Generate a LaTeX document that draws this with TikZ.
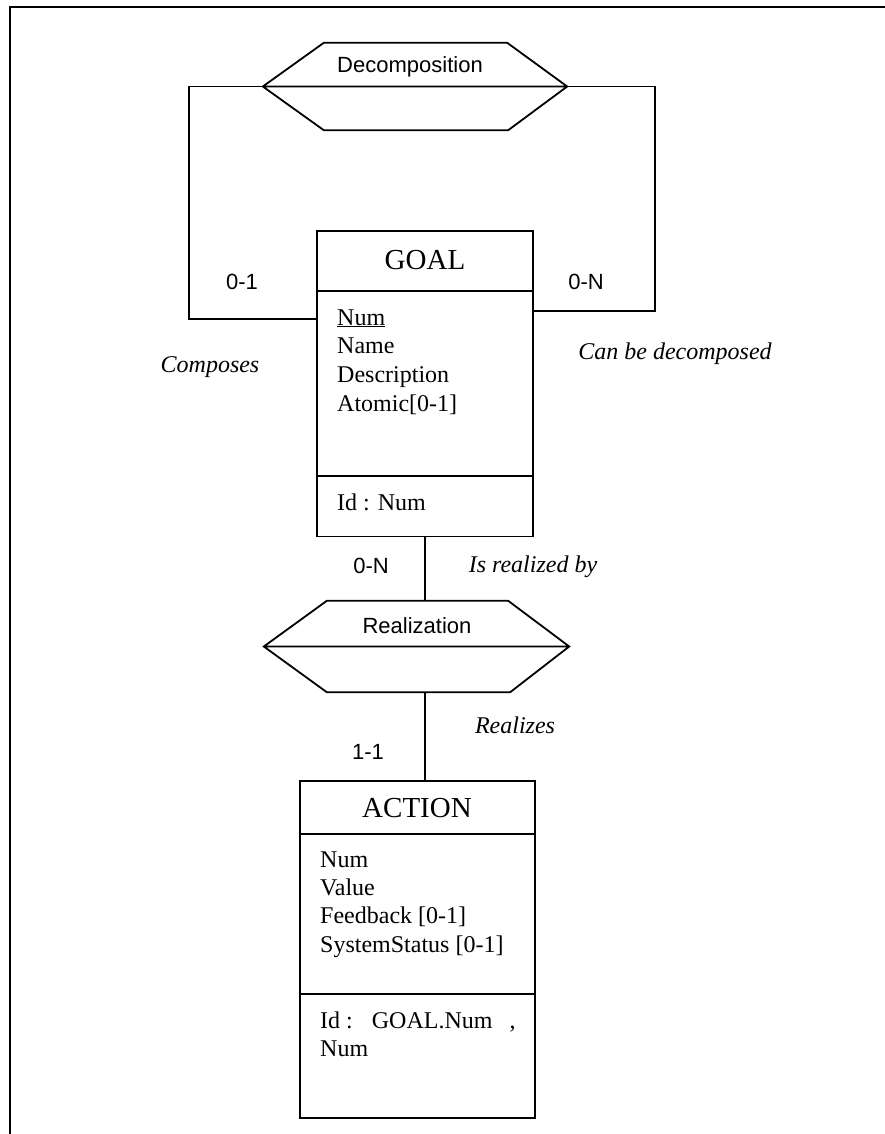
\documentclass[tikz,border=0pt]{standalone}
\usepackage{fontspec}
\setmainfont{Liberation Serif}
\newfontfamily\labelfont{Liberation Sans}
\usetikzlibrary{calc}
\begin{document}
\begin{tikzpicture}[x=1pt,y=-1pt,
  box/.style={draw, line width=1.8pt, inner sep=0pt},
  frameless/.style={inner sep=0pt},
  shapeline/.style={line width=1.8pt, line join=miter},
  link/.style={line width=1.5pt},
  title/.style={font=\fontsize{29}{34}\selectfont, anchor=base, inner sep=0pt},
  attr/.style={font=\fontsize{24}{28}\selectfont, anchor=base west, inner sep=0pt},
  role/.style={font=\fontsize{24}{28}\selectfont\itshape, anchor=base, inner sep=0pt},
  card/.style={font=\labelfont\fontsize{22}{26}\selectfont, anchor=base, inner sep=0pt},
]
\useasboundingbox (0,0) rectangle (885,1134);

% outer frame
\draw[line width=2pt] (10,1200) -- (10,7) -- (900,7);

% ---- Decomposition relationship (hexagon)
\node[frameless, minimum width=304pt, minimum height=87pt] (decomp) at (415,86.5) {};
\draw[shapeline] (decomp.west) -- ($(decomp.north west)+(61,0)$) -- ($(decomp.north east)+(-60,0)$)
  -- (decomp.east) -- ($(decomp.south east)+(-59,0)$) -- ($(decomp.south west)+(61,0)$) -- cycle
  (decomp.west) -- (decomp.east);
\node[card] (decomp-name) at (410,73) {Decomposition};

% ---- GOAL entity
\node[box, minimum width=216pt, minimum height=305.5pt] (goal) at (425,383.75) {};
\draw[shapeline] ($(goal.north west)+(0,61)$) -- ($(goal.north east)+(0,61)$);
\draw[shapeline] ($(goal.north west)+(0,246)$) -- ($(goal.north east)+(0,246)$);
\node[title] (goal-title) at (425,269) {GOAL};
\node[attr] (goal-a1) at (337,325) {\underline{Num}};
\node[attr] (goal-a2) at (337,353) {Name};
\node[attr] (goal-a3) at (337,382) {Description};
\node[attr] (goal-a4) at (337,411) {Atomic[0-1]};
\node[attr] (goal-id) at (337,510) {Id : Num};

% ---- recursive links of Decomposition
\coordinate (cl) at (189,319);
\coordinate (cr) at (655,311);
\draw[link] (decomp.west) -| (cl) -- (cl -| goal.west);
\draw[link] (decomp.east) -| (cr) -- (cr -| goal.east);
\node[card] (card-01) at (242,289) {0-1};
\node[card] (card-0n) at (586,289) {0-N};
\node[role] (role-composes) at (210,372) {Composes};
\node[role] (role-decomposed) at (675,359) {Can be decomposed};

% ---- Realization relationship (hexagon)
\node[frameless, minimum width=305pt, minimum height=91pt] (real) at (416.5,646.5) {};
\draw[shapeline] (real.west) -- ($(real.north west)+(63,0)$) -- ($(real.north east)+(-61,0)$)
  -- (real.east) -- ($(real.south east)+(-59,0)$) -- ($(real.south west)+(63,0)$) -- cycle
  (real.west) -- (real.east);
\node[card] (real-name) at (417,633) {Realization};

% ---- ACTION entity
\node[box, minimum width=235pt, minimum height=337pt] (action) at (417.5,949.5) {};
\draw[shapeline] ($(action.north west)+(0,54)$) -- ($(action.north east)+(0,54)$);
\draw[shapeline] ($(action.north west)+(0,214)$) -- ($(action.north east)+(0,214)$);
\node[title] (action-title) at (417,817) {ACTION};
\node[attr] (action-a1) at (320,867) {Num};
\node[attr] (action-a2) at (320,895) {Value};
\node[attr] (action-a3) at (320,923) {Feedback [0-1]};
\node[attr] (action-a4) at (320,952) {SystemStatus [0-1]};
\node[attr] (action-id1) at (320,1028) {Id :\hspace{19pt}GOAL.Num\hspace{17pt},};
\node[attr] (action-id2) at (320,1056) {Num};

% ---- links of Realization
\draw[link] (goal.south) -- (goal.south |- real.north);
\draw[link] (goal.south |- real.south) -- (goal.south |- action.north);
\node[card] (card-0n-b) at (371,573) {0-N};
\node[card] (card-11) at (368,759) {1-1};
\node[role] (role-realized) at (533,572) {Is realized by};
\node[role] (role-realizes) at (515,733) {Realizes};
\end{tikzpicture}
\end{document}
